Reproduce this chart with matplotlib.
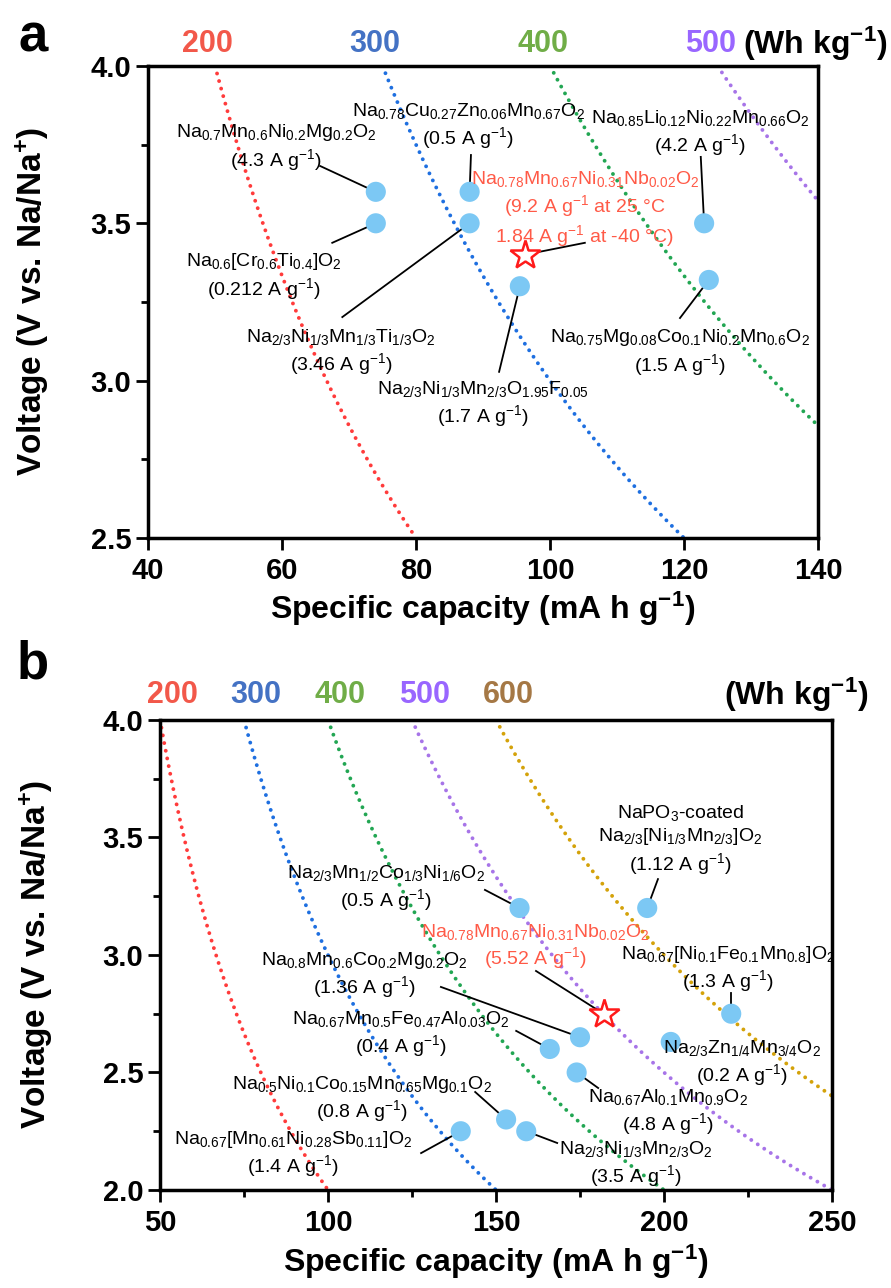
import numpy as np
import matplotlib
matplotlib.use("Agg")
import matplotlib.pyplot as plt
from matplotlib.ticker import MultipleLocator
import matplotlib.transforms as mtransforms

plt.rcParams['font.family'] = ['Liberation Sans', 'DejaVu Sans']
plt.rcParams['mathtext.fontset'] = 'custom'
plt.rcParams['mathtext.rm'] = 'Liberation Sans'
plt.rcParams['mathtext.bf'] = 'Liberation Sans:bold'
plt.rcParams['mathtext.default'] = 'regular'

# ---- panel a data ----
a_energy = [200, 300, 400, 500]
a_cap = [74, 74, 88, 88, 95.5, 123, 123.7]
a_volt = [3.6, 3.5, 3.6, 3.5, 3.3, 3.5, 3.32]
a_names = [r'Na$_{0.7}$Mn$_{0.6}$Ni$_{0.2}$Mg$_{0.2}$O$_2$',
           r'Na$_{0.6}$[Cr$_{0.6}$Ti$_{0.4}$]O$_2$',
           r'Na$_{0.78}$Cu$_{0.27}$Zn$_{0.06}$Mn$_{0.67}$O$_2$',
           r'Na$_{2/3}$Ni$_{1/3}$Mn$_{1/3}$Ti$_{1/3}$O$_2$',
           r'Na$_{2/3}$Ni$_{1/3}$Mn$_{2/3}$O$_{1.95}$F$_{0.05}$',
           r'Na$_{0.85}$Li$_{0.12}$Ni$_{0.22}$Mn$_{0.66}$O$_2$',
           r'Na$_{0.75}$Mg$_{0.08}$Co$_{0.1}$Ni$_{0.2}$Mn$_{0.6}$O$_2$']
a_rates = ['4.3', '0.212', '0.5', '3.46', '1.7', '4.2', '1.5']
a_star_cap, a_star_volt = 96.2, 3.4
a_star_label = ('Na$_{0.78}$Mn$_{0.67}$Ni$_{0.31}$Nb$_{0.02}$O$_2$\n'
                '(9.2 A g$^{-1}$ at 25 \u00b0C\n1.84 A g$^{-1}$ at -40 \u00b0C)')

# ---- panel b data ----
b_energy = [200, 300, 400, 500, 600]
b_cap = [157, 195, 220, 175, 166, 202, 174, 153, 159, 139.5]
b_volt = [3.2, 3.2, 2.75, 2.65, 2.6, 2.63, 2.5, 2.3, 2.25, 2.25]
b_names = [r'Na$_{2/3}$Mn$_{1/2}$Co$_{1/3}$Ni$_{1/6}$O$_2$',
           'NaPO$_3$-coated\n' + r'Na$_{2/3}$[Ni$_{1/3}$Mn$_{2/3}$]O$_2$',
           r'Na$_{0.67}$[Ni$_{0.1}$Fe$_{0.1}$Mn$_{0.8}$]O$_2$',
           r'Na$_{0.8}$Mn$_{0.6}$Co$_{0.2}$Mg$_{0.2}$O$_2$',
           r'Na$_{0.67}$Mn$_{0.5}$Fe$_{0.47}$Al$_{0.03}$O$_2$',
           r'Na$_{2/3}$Zn$_{1/4}$Mn$_{3/4}$O$_2$',
           r'Na$_{0.67}$Al$_{0.1}$Mn$_{0.9}$O$_2$',
           r'Na$_{0.5}$Ni$_{0.1}$Co$_{0.15}$Mn$_{0.65}$Mg$_{0.1}$O$_2$',
           r'Na$_{2/3}$Ni$_{1/3}$Mn$_{2/3}$O$_2$',
           r'Na$_{0.67}$[Mn$_{0.61}$Ni$_{0.28}$Sb$_{0.11}$]O$_2$']
b_rates = ['0.5', '1.12', '1.3', '1.36', '0.4', '0.2', '4.8', '0.8', '3.5', '1.4']
b_star_cap, b_star_volt = 182, 2.75
b_star_label = 'Na$_{0.78}$Mn$_{0.67}$Ni$_{0.31}$Nb$_{0.02}$O$_2$\n(5.52 A g$^{-1}$)'

# label layout: text centre and leader start (None = no leader)
a_layout = [((59.1, 3.74), (65.7, 3.682)),
            ((57.3, 3.33), (67.5, 3.438)),
            ((87.8, 3.81), (88.2, 3.717)),
            ((68.8, 3.09), (69.0, 3.202)),
            ((90.0, 2.925), (92.4, 3.028)),
            ((122.4, 3.787), (122.5, 3.711)),
            ((119.4, 3.09), (119.4, 3.199))]
a_star_layout = ((105.2, 3.545), (105.2, 3.438))
b_layout = [((117.3, 3.285), (146.7, 3.277)),
            ((204.8, 3.49), (198.2, 3.323)),
            ((219.0, 2.94), (220.0, 2.838)),
            ((110.7, 2.915), (133.6, 2.864)),
            ((121.7, 2.665), (156.0, 2.677)),
            ((223.2, 2.54), None),
            ((201.2, 2.333), (180.4, 2.434)),
            ((110.1, 2.387), (143.8, 2.417)),
            ((191.7, 2.11), (168.2, 2.200)),
            ((89.6, 2.153), (127.7, 2.157))]
b_star_layout = ((161.6, 3.036), (161.9, 2.932))

curve_colors = ['#FF3B3B', '#1E6FE0', '#22A653', '#A774E8', '#D4A20A']
label_colors = ['#F2584A', '#4472C4', '#70AD47', '#9966FF', '#A57845']
dot_color = '#7CC8F4'
red_text = '#FF5A47'
ann_fs = 14


def draw_panel(ax, energy, cap, volt, names, rates, layout,
               star, star_label, star_layout, xlim, ylim, lab_dx, lab_y):
    for i, e in enumerate(energy):
        x = np.linspace(e / ylim[1], e / ylim[0], 300)
        ax.plot(x, e / x, color=curve_colors[i], lw=2.8,
                linestyle=(0, (0.01, 2.0)), dash_capstyle='round', zorder=1)
    trans = mtransforms.blended_transform_factory(ax.transData, ax.transAxes)
    for i, e in enumerate(energy):
        ax.text(e / ylim[1] + lab_dx, lab_y, str(e), transform=trans,
                color=label_colors[i], fontsize=22, fontweight='bold',
                ha='center', va='center', clip_on=False)
    for i in range(len(cap)):
        txt = names[i] + '\n(' + rates[i] + ' A g$^{-1}$)'
        (tx, ty), lead = layout[i]
        ax.text(tx, ty, txt, fontsize=ann_fs, ha='center', va='center',
                multialignment='center', zorder=4)
        if lead is not None:
            ax.plot([lead[0], cap[i]], [lead[1], volt[i]], color='black',
                    lw=1.3, zorder=2)
    ax.scatter(cap, volt, s=210, color=dot_color, edgecolors='none', zorder=3)
    (tx, ty), lead = star_layout
    ax.text(tx, ty, star_label, fontsize=ann_fs, color=red_text,
            ha='center', va='center', multialignment='center', zorder=4)
    ax.plot([lead[0], star[0]], [lead[1], star[1]], color='black', lw=1.3, zorder=2)
    ax.plot(star[0], star[1], marker='*', markersize=22, markerfacecolor='white',
            markeredgecolor='#FF1A1A', markeredgewidth=1.8, zorder=5)
    ax.set_xlim(*xlim)
    ax.set_ylim(*ylim)
    ax.yaxis.set_major_locator(MultipleLocator(0.5))
    ax.yaxis.set_minor_locator(MultipleLocator(0.25))
    ax.set_xlabel(r'Specific capacity (mA h g$\mathbf{^{-1}}$)', fontsize=23,
                  fontweight='bold')
    ax.set_ylabel(r'Voltage (V vs. Na/Na$\mathbf{^{+}}$)', fontsize=24,
                  fontweight='bold')
    ax.tick_params(which='both', direction='out', width=2, labelsize=21)
    ax.tick_params(axis='x', which='major', pad=5)
    ax.tick_params(which='major', length=8.5)
    ax.tick_params(which='minor', length=5)
    for lab in ax.get_xticklabels() + ax.get_yticklabels():
        lab.set_fontweight('bold')
    for sp in ax.spines.values():
        sp.set_linewidth(2.5)


fig = plt.figure(figsize=(8.91, 12.88), dpi=100)
ax1 = fig.add_axes([0.1661, 0.5823, 0.752, 0.3665])
ax2 = fig.add_axes([0.1796, 0.0761, 0.7542, 0.3649])

draw_panel(ax1, a_energy, a_cap, a_volt, a_names, a_rates, a_layout,
           (a_star_cap, a_star_volt), a_star_label, a_star_layout,
           (40, 140), (2.5, 4.0), -1.1, 1.047)
ax1.xaxis.set_major_locator(MultipleLocator(20))
ax1.xaxis.set_label_coords(0.5, -0.11)
ax1.yaxis.set_label_coords(-0.145, 0.5)
ax1.text(139.55, 1.047, r'(Wh kg$\mathbf{^{-1}}$)',
         transform=mtransforms.blended_transform_factory(ax1.transData, ax1.transAxes),
         fontsize=23, fontweight='bold', ha='center', va='center', clip_on=False)

draw_panel(ax2, b_energy, b_cap, b_volt, b_names, b_rates, b_layout,
           (b_star_cap, b_star_volt), b_star_label, b_star_layout,
           (50, 250), (2.0, 4.0), 3.6, 1.053)
ax2.xaxis.set_major_locator(MultipleLocator(50))
ax2.xaxis.set_minor_locator(MultipleLocator(25))
ax2.xaxis.set_label_coords(0.5, -0.113)
ax2.yaxis.set_label_coords(-0.156, 0.5)
ax2.text(239.3, 1.053, r'(Wh kg$\mathbf{^{-1}}$)',
         transform=mtransforms.blended_transform_factory(ax2.transData, ax2.transAxes),
         fontsize=23, fontweight='bold', ha='center', va='center', clip_on=False)

fig.text(0.037, 0.9705, 'a', fontsize=38, fontweight='bold', ha='center', va='center')
fig.text(0.037, 0.4837, 'b', fontsize=38, fontweight='bold', ha='center', va='center')

fig.savefig('out.png', dpi=100)
